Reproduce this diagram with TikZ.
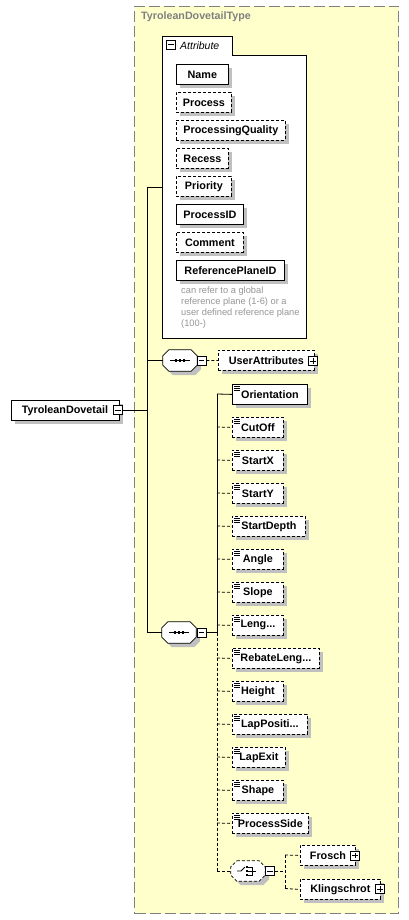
\documentclass[tikz,border=0pt]{standalone}
\usepackage{fontspec}
\setmainfont{Liberation Sans}
\usetikzlibrary{shadows}
\definecolor{ybg}{RGB}{255,255,204}
\definecolor{bgray}{RGB}{128,128,128}
\definecolor{shgray}{RGB}{192,192,192}
\definecolor{ngray}{RGB}{150,150,150}
\newcommand\elemfont{\fontsize{10.8}{12}\selectfont\bfseries}
\newcommand\myellip{...}
\begin{document}
\begin{tikzpicture}[x=1pt,y=-1pt,
  shd/.style={drop shadow={shadow xshift=4pt,shadow yshift=-4pt,fill=shgray,opacity=1}},
  base/.style={draw,fill=white,line width=0.8pt,inner sep=0pt,minimum height=20pt,font=\elemfont,shd},
  el/.style={base,anchor=north west},
  opt/.style={dash pattern=on 3pt off 2pt},
  icon/.style={path picture={\draw[solid,line width=0.6pt]
     ([xshift=2pt,yshift=-1.5pt]path picture bounding box.north west) -- ++(6pt,0pt)
     ([xshift=2pt,yshift=-3.5pt]path picture bounding box.north west) -- ++(6pt,0pt)
     ([xshift=2pt,yshift=-5.5pt]path picture bounding box.north west) -- ++(6pt,0pt);}},
  pm/.style={draw,solid,fill=white,minimum size=9pt,inner sep=0pt,line width=0.7pt},
  minus/.style={pm,path picture={\draw[solid,line width=0.7pt]
     ([xshift=1.8pt]path picture bounding box.west) -- ([xshift=-1.8pt]path picture bounding box.east);}},
  plus/.style={pm,path picture={\draw[solid,line width=0.7pt]
     ([xshift=1.8pt]path picture bounding box.west) -- ([xshift=-1.8pt]path picture bounding box.east)
     ([yshift=-1.8pt]path picture bounding box.north) -- ([yshift=1.8pt]path picture bounding box.south);}},
  octbox/.style={minimum width=34pt,minimum height=21pt,inner sep=0pt},
  octo/.style={insert path={([xshift=6pt]#1.north west) -- ([xshift=-6pt]#1.north east)
     -- ([yshift=-6pt]#1.north east) -- ([yshift=6pt]#1.south east) -- ([xshift=-6pt]#1.south east)
     -- ([xshift=6pt]#1.south west) -- ([yshift=6pt]#1.south west) -- ([yshift=-6pt]#1.north west) -- cycle}},
  octshadow/.style={fill=shgray,transform canvas={shift={(4pt,-4pt)}}},
  conn/.style={line width=0.8pt},
  dconn/.style={conn,dash pattern=on 3pt off 2pt}]
\useasboundingbox (0,0) rectangle (408,920);

% type box
\node[draw=bgray,fill=ybg,dash pattern=on 11pt off 4pt,line width=1pt,minimum width=264pt,
  minimum height=907pt,anchor=north west,inner sep=0pt] (typebox) at (134,6) {};
\node[anchor=west,text=bgray,font=\fontsize{10.7}{12}\selectfont\bfseries,inner sep=0pt] (title) at (141,17) {TyroleanDovetailType};

% attribute group
\draw[fill=white,line width=0.8pt] (162,338) -- (162,36.5) -- (232,36.5) -- (232,55) -- (306,55) -- (306,338) -- cycle;
\node[minus] (attrpm) at (171,44.5) {};
\node[anchor=west,inner sep=0pt,font=\fontsize{10.5}{12}\selectfont\itshape] (attrlbl) at (180,46) {Attribute};
\coordinate (attrin) at (162,187);

\node[el,minimum width=52pt] (aName) at (176,64) {Name};
\node[el,opt,minimum width=55pt] (aProcess) at (176,92) {Process};
\node[el,opt,minimum width=109pt] (aPQ) at (176,120) {ProcessingQuality};
\node[el,opt,minimum width=52pt] (aRecess) at (176,148) {Recess};
\node[el,opt,minimum width=55pt] (aPriority) at (176,176) {Priority};
\node[el,minimum width=67pt] (aPID) at (176,204) {ProcessID};
\node[el,opt,minimum width=67pt] (aComment) at (176,232) {Comment};
\node[el,minimum width=108pt] (aRPID) at (176,260) {ReferencePlaneID};
\node[anchor=north west,inner sep=0pt,text=ngray,align=left,font=\fontsize{9.3}{10.8}\selectfont] (note) at (181,287)
  {can refer to a global\\reference plane (1-6) or a\\user defined reference plane\\(100-)};

% root element
\node[el,minimum width=108pt] (root) at (10.5,400) {TyroleanDovetail\hspace{9pt}};
\node[minus] (rootpm) at (118,410) {};
\coordinate (jroot) at (147,410);
\coordinate (jtop) at (147,187);
\coordinate (jbot) at (147,632.5);
\draw[conn] (rootpm.east) -- (jroot);
\draw[conn] (jtop) -- (jbot);
\draw[conn] (jtop) -- (attrin);

% sequence 1
\node[octbox] (seq1) at (180,360.5) {};
\fill[octshadow] [octo=seq1];
\draw[fill=white,line width=0.8pt] [octo=seq1];
\draw[line width=0.8pt] ([xshift=-10pt]seq1.center) -- ([xshift=10pt]seq1.center);
\foreach \dx in {-4,0,4} \fill ([xshift=\dx pt]seq1.center) ++(-1.3pt,-1.3pt) rectangle ++(2.6pt,2.6pt);
\node[minus] (seq1pm) at (201.5,360.5) {};
\draw[conn] (147,360.5) coordinate (j1) -- (seq1.west);
\node[el,opt,minimum width=96pt] (ua) at (218,350) {UserAttributes\hspace{8pt}};
\node[plus] (uapm) at (313,361) {};
\draw[dconn] (seq1pm.east) -- (ua.west);

% sequence 2
\node[octbox] (seq2) at (179,632.5) {};
\fill[octshadow] [octo=seq2];
\draw[fill=white,line width=0.8pt] [octo=seq2];
\draw[line width=0.8pt] ([xshift=-10pt]seq2.center) -- ([xshift=10pt]seq2.center);
\foreach \dx in {-4,0,4} \fill ([xshift=\dx pt]seq2.center) ++(-1.3pt,-1.3pt) rectangle ++(2.6pt,2.6pt);
\node[minus] (seq2pm) at (201.5,632.5) {};
\draw[conn] (jbot) -- (seq2.west);
\coordinate (t2top) at (217,394);
\coordinate (t2mid) at (217,632.5);
\coordinate (t2bot) at (217,871);
\draw[conn] (seq2pm.east) -- (t2mid);
\draw[conn] (t2top) -- (t2mid);
\draw[dconn] (t2mid) -- (t2bot);

% elements
\node[el,icon,minimum width=75pt] (e1) at (232,384) {Orientation};
\draw[conn] (t2top) -- (e1.west);
\foreach \n/\t/\w [count=\i] in {e2/CutOff/51,e3/StartX/51,e4/StartY/51,e5/StartDepth/73,e6/Angle/51,
   e7/Slope/51,e8/Leng\myellip/51,e9/RebateLeng\myellip/87,e10/Height/51,e11/LapPositi\myellip/75,e12/LapExit/53,
   e13/Shape/51,e14/ProcessSide/76}{
  \node[el,opt,icon,minimum width=\w pt] (\n) at (232,{384+33*\i}) {\t};
  \draw[dconn] (217,{394+33*\i}) -- (\n.west);
}

% choice
\node[octbox,minimum height=20pt] (ch) at (248,871) {};
\fill[octshadow] [octo=ch];
\draw[fill=white,line width=0.8pt,opt] [octo=ch];
\draw[line width=0.8pt] ([xshift=-11pt]ch.center) -- ([xshift=-7pt]ch.center) -- ([xshift=-3pt,yshift=4pt]ch.center);
\foreach \dy in {-4,0,4} \fill ([xshift=-1pt,yshift=\dy pt]ch.center) ++(-1.2pt,-1.2pt) rectangle ++(2.4pt,2.4pt);
\draw[line width=0.7pt] ([xshift=0pt,yshift=4pt]ch.center) -- ([xshift=4pt,yshift=4pt]ch.center) -- ([xshift=4pt,yshift=-4pt]ch.center) -- ([xshift=0pt,yshift=-4pt]ch.center)
  ([xshift=0pt]ch.center) -- ([xshift=8pt]ch.center);
\draw[dconn] (t2bot) -- (ch.west);
\node[minus] (chpm) at (270,871) {};
\coordinate (cj) at (285,871);
\coordinate (cjt) at (285,855);
\coordinate (cjb) at (285,888.5);
\draw[dconn] (chpm.east) -- (cj);
\draw[dconn] (cjt) -- (cjb);
\node[el,opt,minimum width=55pt] (frosch) at (300,845) {Frosch\hspace{8pt}};
\node[plus] (froschpm) at (355,855.5) {};
\node[el,opt,minimum width=80pt] (kling) at (300,879) {Klingschrot\hspace{8pt}};
\node[plus] (klingpm) at (380,889) {};
\draw[dconn] (cjt) -- (frosch.west);
\draw[dconn] (cjb) -- (kling.west);
\end{tikzpicture}
\end{document}
